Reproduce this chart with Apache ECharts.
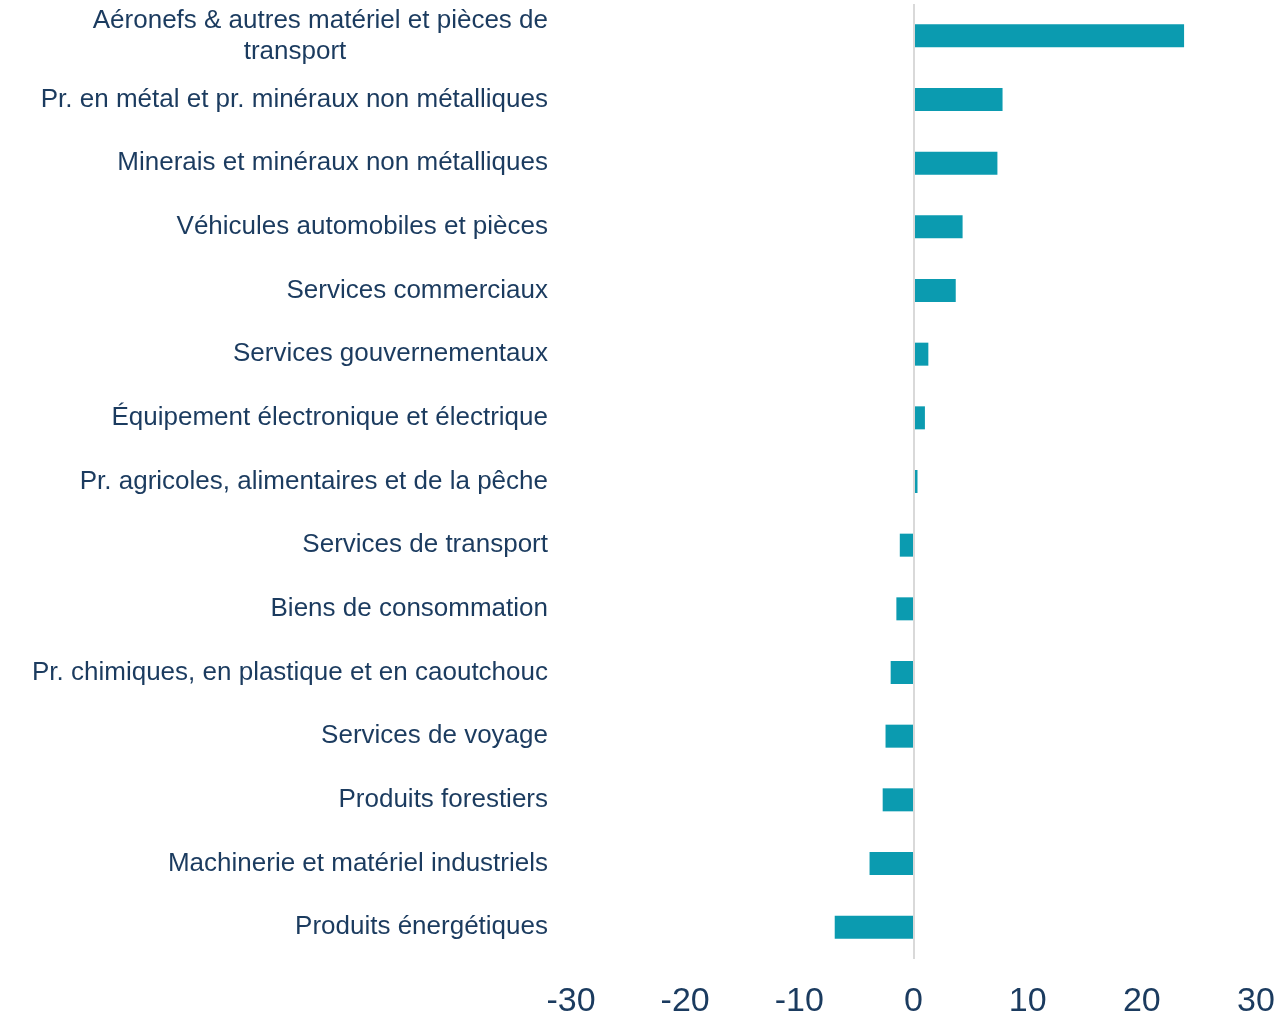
<!DOCTYPE html>
<html>
<head>
<meta charset="utf-8">
<script src="https://cdn.jsdelivr.net/npm/echarts@6/dist/echarts.min.js"></script>
<style>
  html, body { margin: 0; padding: 0; background: #fff; }
  #chart { width: 1283px; height: 1016px; }
</style>
</head>
<body>
<div id="chart"></div>
<script>
// categories, top to bottom
let categories = [
    'Aéronefs & autres matériel et pièces de transport',
    'Pr. en métal et pr. minéraux non métalliques',
    'Minerais et minéraux non métalliques',
    'Véhicules automobiles et pièces',
    'Services commerciaux',
    'Services gouvernementaux',
    'Équipement électronique et électrique',
    'Pr. agricoles, alimentaires et de la pêche',
    'Services de transport',
    'Biens de consommation',
    'Pr. chimiques, en plastique et en caoutchouc',
    'Services de voyage',
    'Produits forestiers',
    'Machinerie et matériel industriels',
    'Produits énergétiques'
];
let values = [23.7, 7.8, 7.35, 4.3, 3.7, 1.3, 1.0, 0.35, -1.2, -1.5, -2.0, -2.45, -2.7, -3.85, -6.9];

let textColor = '#1b3b5f';
let font = 'Liberation Sans, Arial, sans-serif';
let ctx = document.getElementById('chart');
let chart = echarts.init(ctx);

let option = {
    animation: false,
    grid: {
        left: 571,
        right: 27,
        top: 4,
        bottom: 57,
        outerBoundsMode: 'none'
    },
    xAxis: {
        type: 'value',
        min: -30,
        max: 30,
        interval: 10,
        axisLine: { show: false },
        axisTick: { show: false },
        splitLine: { show: false },
        axisLabel: {
            color: textColor,
            fontFamily: font,
            fontSize: 34,
            margin: 26
        }
    },
    yAxis: {
        type: 'category',
        inverse: true,
        data: categories,
        axisLine: { show: false, onZero: false },
        axisTick: { show: false },
        axisLabel: {
            color: textColor,
            fontFamily: font,
            fontSize: 26,
            margin: 23,
            formatter: function (v) {
                if (v.indexOf('pièces de transport') > -1) {
                    return '{a|Aéronefs & autres matériel et pièces de}\n{b|transport}';
                }
                return v;
            },
            rich: {
                a: { fontSize: 26, color: textColor, fontFamily: font, lineHeight: 31 },
                b: { fontSize: 26, color: textColor, fontFamily: font, lineHeight: 31, width: 506, align: 'center' }
            }
        }
    },
    series: [{
        type: 'bar',
        data: values,
        barWidth: 23,
        itemStyle: { color: '#0b9bb0' },
        markLine: {
            silent: true,
            symbol: 'none',
            label: { show: false },
            lineStyle: { color: '#d9d9d9', width: 2, type: 'solid' },
            data: [{ xAxis: 0 }]
        }
    }]
};

chart.setOption(option, true);
window.onresize = () => {
    chart.resize();
};
</script>
</body>
</html>
